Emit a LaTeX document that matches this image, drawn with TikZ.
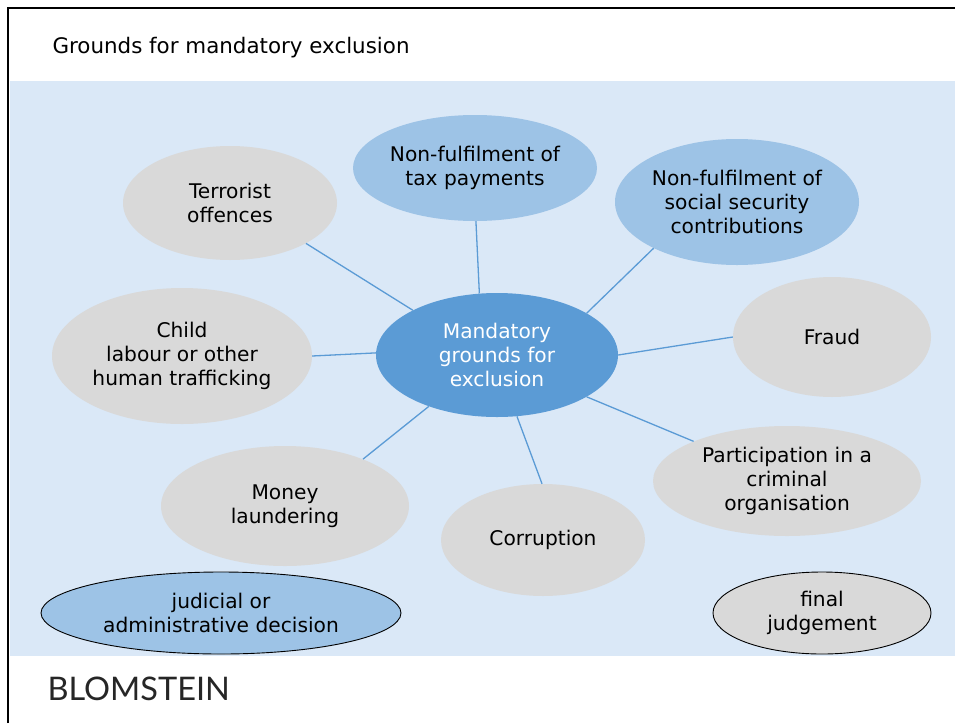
\documentclass[tikz,border=0pt]{standalone}
\usepackage{fontspec}
\setmainfont{DejaVu Sans}
\newfontfamily\logofont{Lato}
\usetikzlibrary{shapes.geometric}
\definecolor{bgblue}{HTML}{DAE8F7}
\definecolor{midblue}{HTML}{5B9BD5}
\definecolor{lightblue}{HTML}{9DC3E6}
\definecolor{lgray}{HTML}{D9D9D9}
\definecolor{logogray}{HTML}{262626}
\tikzset{
  oval/.style={ellipse, inner sep=0pt, align=center, font=\fontsize{20.2}{24}\selectfont, text=black},
  grayoval/.style={oval, fill=lgray},
  blueoval/.style={oval, fill=lightblue},
  link/.style={draw=midblue, line width=1.3pt},
}
\begin{document}
\begin{tikzpicture}[x=1pt, y=-1pt]
\useasboundingbox (0,0) rectangle (955,723);
\fill[white] (0,0) rectangle (955,723);
\fill[bgblue] (10,81) rectangle (955,656);
\draw[line width=2pt] (8,723) -- (8,8) -- (955,8);
\node[anchor=west, font=\fontsize{21.4}{25}\selectfont] (title) at (49,47.5) {Grounds for mandatory exclusion};
\node[anchor=west, font=\logofont\fontsize{32.5}{36}\selectfont, text=logogray] (logo) at (44,689) {BLOMSTEIN};

\node[oval, fill=midblue, text=white, minimum width=242pt, minimum height=124pt] (c) at (497,355) {Mandatory\\grounds for\\exclusion};
\node[blueoval, minimum width=244pt, minimum height=106pt] (tax) at (475,168) {Non-fulfilment of\\tax payments};
\node[blueoval, minimum width=244pt, minimum height=126pt] (soc) at (737,202) {Non-fulfilment of\\social security\\contributions};
\node[grayoval, minimum width=214pt, minimum height=114pt] (ter) at (230,203) {Terrorist\\offences};
\node[grayoval, minimum width=260pt, minimum height=136pt] (child) at (182,356) {Child\\labour or other\\human trafficking};
\node[grayoval, minimum width=198pt, minimum height=120pt] (fraud) at (832,337) {Fraud};
\node[grayoval, minimum width=268pt, minimum height=110pt] (part) at (787,481) {Participation in a\\criminal\\organisation};
\node[grayoval, minimum width=248pt, minimum height=120pt] (money) at (285,506) {Money\\laundering};
\node[grayoval, minimum width=204pt, minimum height=112pt] (corr) at (543,540) {Corruption};
\node[blueoval, draw=black, line width=0.9pt, minimum width=360pt, minimum height=82pt] (jud) at (221,613) {judicial or\\administrative decision};
\node[grayoval, draw=black, line width=0.9pt, minimum width=218pt, minimum height=82pt] (fin) at (822,613) {final\\judgement};

\draw[link] (ter.-28.7) -- (c.152.4);
\draw[link] (tax.-89) -- (c.106.2);
\draw[link] (soc.-151.9) -- (c.25.8);
\draw[link] (child.0) -- (c.179.5);
\draw[link] (fraud.180.6) -- (c.0.5);
\draw[link] (part.157.2) -- (c.-25.8);
\draw[link] (money.31.1) -- (c.-143.5);
\draw[link] (corr.91) -- (c.-72.7);
\end{tikzpicture}
\end{document}
